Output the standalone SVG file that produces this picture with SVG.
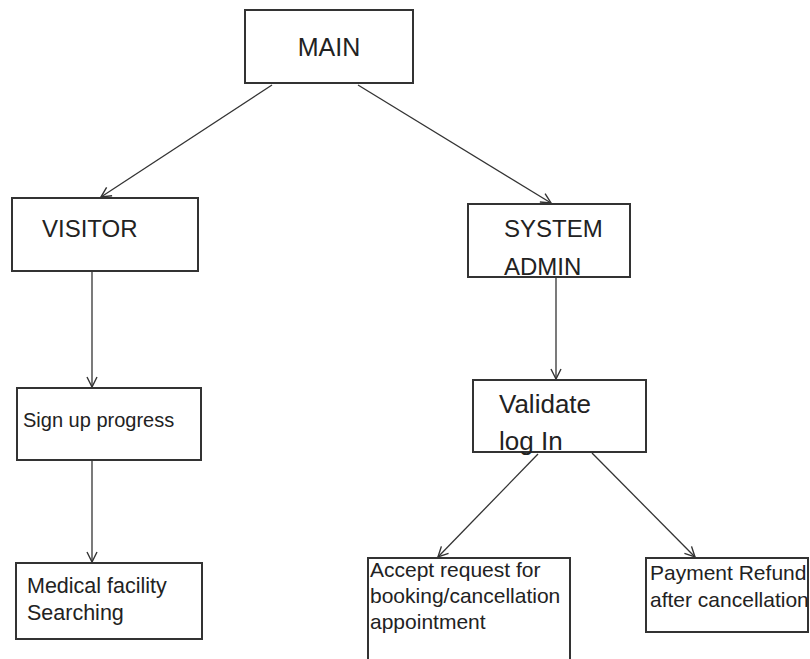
<svg xmlns="http://www.w3.org/2000/svg" width="810" height="659" viewBox="0 0 810 659">
<style>
.box{fill:#fff;stroke:#333;stroke-width:2}
.t{font-family:"Liberation Sans",Arial,sans-serif;fill:#222}
.c{stroke:#333;stroke-width:1.3;fill:none;marker-end:url(#ah)}
</style>
<defs>
<marker id="ah" viewBox="0 0 12 12" refX="11" refY="6" markerWidth="12" markerHeight="12" markerUnits="userSpaceOnUse" orient="auto">
<path d="M1,1 L11,6 L1,11" fill="none" stroke="#333" stroke-width="1.4"/>
</marker>
</defs>
<rect width="810" height="659" fill="#fff"/>
<g id="connectors">
<line class="c" x1="272" y1="85" x2="101" y2="197"/>
<line class="c" x1="358" y1="85" x2="551" y2="203"/>
<line class="c" x1="92" y1="271" x2="92" y2="387"/>
<line class="c" x1="92" y1="460" x2="92" y2="562"/>
<line class="c" x1="556" y1="277" x2="556" y2="379"/>
<line class="c" x1="538" y1="454" x2="438" y2="557"/>
<line class="c" x1="592" y1="453" x2="695" y2="557"/>
</g>
<g id="main">
<rect class="box" x="245" y="10" width="168" height="73"/>
<text class="t" x="329" y="56" font-size="25" text-anchor="middle">MAIN</text>
</g>
<g id="visitor">
<rect class="box" x="12" y="198" width="186" height="73"/>
<text class="t" x="42" y="237" font-size="24">VISITOR</text>
</g>
<g id="system-admin">
<rect class="box" x="468" y="204" width="162" height="73"/>
<text class="t" x="504" y="237" font-size="24">SYSTEM</text>
<text class="t" x="504" y="275" font-size="24">ADMIN</text>
</g>
<g id="sign-up">
<rect class="box" x="17" y="388" width="184" height="72"/>
<text class="t" x="23" y="427" font-size="20">Sign up progress</text>
</g>
<g id="validate">
<rect class="box" x="473" y="380" width="173" height="72"/>
<text class="t" x="499" y="413" font-size="26">Validate</text>
<text class="t" x="499" y="450" font-size="26">log In</text>
</g>
<g id="medical">
<rect class="box" x="16" y="563" width="186" height="76"/>
<text class="t" x="27" y="593" font-size="21.5">Medical facility</text>
<text class="t" x="27" y="620" font-size="21.5">Searching</text>
</g>
<g id="accept">
<path class="box" d="M368,662 V558 H570 V662"/>
<text class="t" x="370" y="577" font-size="21">Accept request for</text>
<text class="t" x="370" y="603" font-size="21">booking/cancellation</text>
<text class="t" x="370" y="629" font-size="21">appointment</text>
</g>
<g id="payment">
<rect class="box" x="646" y="558" width="162" height="74"/>
<text class="t" x="650" y="580" font-size="21">Payment Refund</text>
<text class="t" x="650" y="607" font-size="21">after cancellation</text>
</g>
</svg>
